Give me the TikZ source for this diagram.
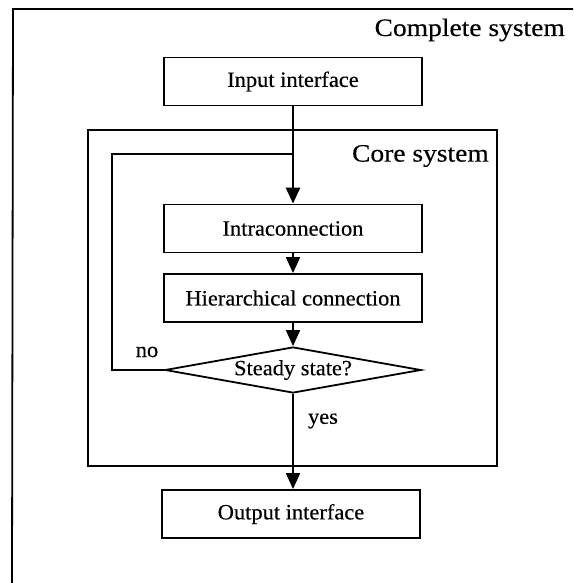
\documentclass[tikz,border=0pt]{standalone}
\usepackage{fontspec}
\setmainfont{Liberation Serif}
\newfontfamily\boxfont[FakeStretch=1.03,FakeBold=0.4]{Liberation Serif}
\newfontfamily\titlefont[FakeStretch=1.1,FakeBold=0.4]{Liberation Serif}
\usetikzlibrary{shapes.geometric,arrows.meta}
\begin{document}
\begin{tikzpicture}[x=1pt,y=-1pt,
  blk/.style={draw, line width=1.8pt, minimum width=258pt, minimum height=48pt, inner sep=0pt,
    font=\boxfont\fontsize{21.8}{26}\selectfont},
  dec/.style={draw, diamond, line width=1.8pt, shape aspect=5.5, minimum width=256pt, minimum height=46pt,
    inner sep=0pt, font=\boxfont\fontsize{21.8}{26}\selectfont},
  frame/.style={draw, line width=1.8pt, inner sep=0pt},
  title/.style={inner sep=0pt, anchor=east, font=\titlefont\fontsize{25}{29}\selectfont},
  lbl/.style={inner sep=0pt, font=\boxfont\fontsize{21.8}{26}\selectfont},
  flow/.style={line width=1.8pt, -{Triangle[length=16pt,width=14pt]}},
  mainflow/.style={line width=2.6pt, -{Triangle[length=16pt,width=14pt]}},
  plain/.style={line width=1.8pt}
]
\useasboundingbox (0,0) rectangle (573,583);
% outer frame (right and bottom edges fall outside the picture)
\coordinate (otr) at (573,9);
\coordinate (otl) at (13,9);
\coordinate (obl) at (12,583);
\draw[plain] (otr) -- (otl) -- (obl);
\node[title] (complete) at (565,30) {Complete system};

% core system frame
\node[frame, minimum width=409pt, minimum height=336pt] (core) at (292.5,298) {};
\node[title] (coretitle) at (489,156) {Core system};

% blocks
\node[blk] (input) at (293,81.5) {Input interface};
\node[blk] (intra) at (293,228.5) {Intraconnection};
\node[blk] (hier) at (293,298) {Hierarchical connection};
\node[dec] (steady) at (293,370) {Steady state?};
\node[blk] (output) at (291,514) {Output interface};

% connectors
\draw[mainflow] (input.south) -- (intra.north);
\draw[flow] (intra.south) -- (hier.north);
\draw[flow] (hier.south) -- (steady.north);
\draw[flow] (steady.south) -- (steady.south |- output.north);
\coordinate (lc) at (112,154);
\coordinate (join) at (293,154);
\draw[plain] (steady.west) -| (lc) -- (join);

\node[lbl] (no) at (147,352) {no};
\node[lbl] (yes) at (323,421) {yes};
\end{tikzpicture}
\end{document}
